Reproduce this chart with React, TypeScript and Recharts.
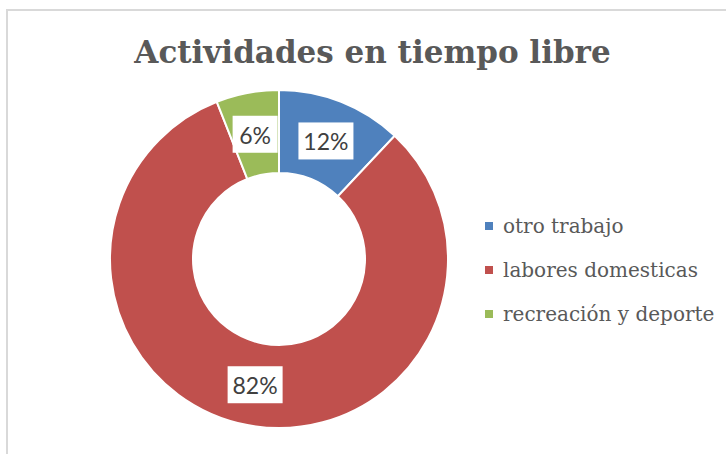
import { PieChart, Pie, Cell, Legend } from "recharts";

const categories = ["otro trabajo", "labores domesticas", "recreación y deporte"];
const shares = [12, 82, 6];
const colors = ["#4f81bd", "#c0504d", "#9bbb59"];

const data = categories.map((name, i) => ({ name, value: shares[i] }));

const RAD = Math.PI / 180;
const SERIF = "'DejaVu Serif', 'Liberation Serif', serif";

// white box with the percentage, centred on the ring
const SliceLabel = ({ cx, cy, midAngle, innerRadius, outerRadius, percent }: any) => {
  const r = (innerRadius + outerRadius) / 2;
  const x = cx + r * Math.cos(-midAngle * RAD);
  const y = cy + r * Math.sin(-midAngle * RAD);
  const text = `${Math.round(percent * 100)}%`;
  const w = text.length * 10 + 25;
  return (
    <g>
      <rect x={x - w / 2} y={y - 18} width={w} height={37} fill="#ffffff" />
      <text
        x={x}
        y={y + 1}
        textAnchor="middle"
        dominantBaseline="central"
        fontFamily="Lato, 'Liberation Sans', sans-serif"
        fontSize={23}
        fill="#404040"
      >
        {text}
      </text>
    </g>
  );
};

// legend in the original series order
const LegendList = () => (
  <div>
    {categories.map((name, i) => (
      <div
        key={name}
        style={{ display: "flex", alignItems: "center", height: 44, whiteSpace: "nowrap" }}
      >
        <div style={{ width: 8, height: 8, background: colors[i], marginRight: 10 }} />
        <span style={{ fontFamily: SERIF, fontSize: 20, color: "#595959" }}>{name}</span>
      </div>
    ))}
  </div>
);

export default function App() {
  return (
    <div
      style={{
        position: "absolute",
        left: 0,
        top: 0,
        width: 726,
        height: 454,
        overflow: "hidden",
        background: "#ffffff",
      }}
    >
      <div
        style={{
          position: "absolute",
          left: 6,
          top: 9,
          width: 760,
          height: 480,
          border: "2px solid #d9d9d9",
        }}
      />
      <div
        style={{
          position: "absolute",
          left: 0,
          top: 34,
          width: 745,
          textAlign: "center",
          fontFamily: SERIF,
          fontWeight: "bold",
          fontSize: 31,
          color: "#595959",
        }}
      >
        Actividades en tiempo libre
      </div>
      <div style={{ position: "absolute", left: 0, top: 0 }}>
        <PieChart width={726} height={454} margin={{ top: 0, right: 0, bottom: 0, left: 0 }}>
          <Pie
            data={data}
            dataKey="value"
            nameKey="name"
            cx={279}
            cy={259}
            innerRadius={86}
            outerRadius={169}
            startAngle={90}
            endAngle={-270}
            stroke="#ffffff"
            strokeWidth={2}
            label={SliceLabel}
            labelLine={false}
            isAnimationActive={false}
          >
            {data.map((d, i) => (
              <Cell key={d.name} fill={colors[i]} />
            ))}
          </Pie>
          <Legend
            layout="vertical"
            content={<LegendList />}
            wrapperStyle={{ position: "absolute", left: 485, top: 204, width: 240 }}
          />
        </PieChart>
      </div>
    </div>
  );
}
